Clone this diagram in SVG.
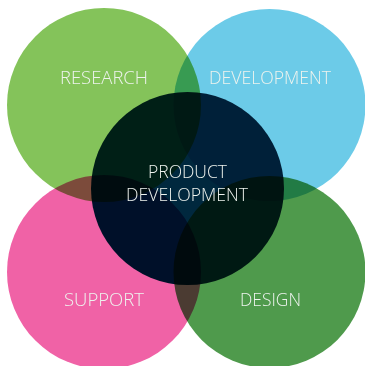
<svg xmlns="http://www.w3.org/2000/svg" width="365" height="366" viewBox="0 0 365 366">
<style>
.c{mix-blend-mode:multiply}
text{font-family:"Open Sans","Liberation Sans",sans-serif;font-weight:300;font-size:18px;fill:#eef3ee;text-anchor:middle}
</style>
<rect width="365" height="366" fill="#fff"/>
<g id="circles" style="isolation:isolate">
<g id="research"><circle class="c" cx="104" cy="105" r="97" fill="#84c35a"/></g>
<g id="development"><circle class="c" cx="269.5" cy="105" r="96" fill="#6ccbe8"/></g>
<g id="support"><circle class="c" cx="104" cy="272" r="97" fill="#f062a6"/></g>
<g id="design"><circle class="c" cx="269.5" cy="272" r="96" fill="#4f9a4c"/></g>
<g id="product"><circle class="c" cx="187.5" cy="188.5" r="96.5" fill="#00283e"/></g>
</g>
<g id="labels">
<text x="104" y="84" textLength="88" lengthAdjust="spacingAndGlyphs">RESEARCH</text>
<text x="270" y="84" textLength="122" lengthAdjust="spacingAndGlyphs">DEVELOPMENT</text>
<text x="187.5" y="178" textLength="79" lengthAdjust="spacingAndGlyphs">PRODUCT</text>
<text x="187" y="201" textLength="122" lengthAdjust="spacingAndGlyphs">DEVELOPMENT</text>
<text x="104" y="306" textLength="80" lengthAdjust="spacingAndGlyphs">SUPPORT</text>
<text x="270.5" y="306" textLength="61" lengthAdjust="spacingAndGlyphs">DESIGN</text>
</g>
</svg>
